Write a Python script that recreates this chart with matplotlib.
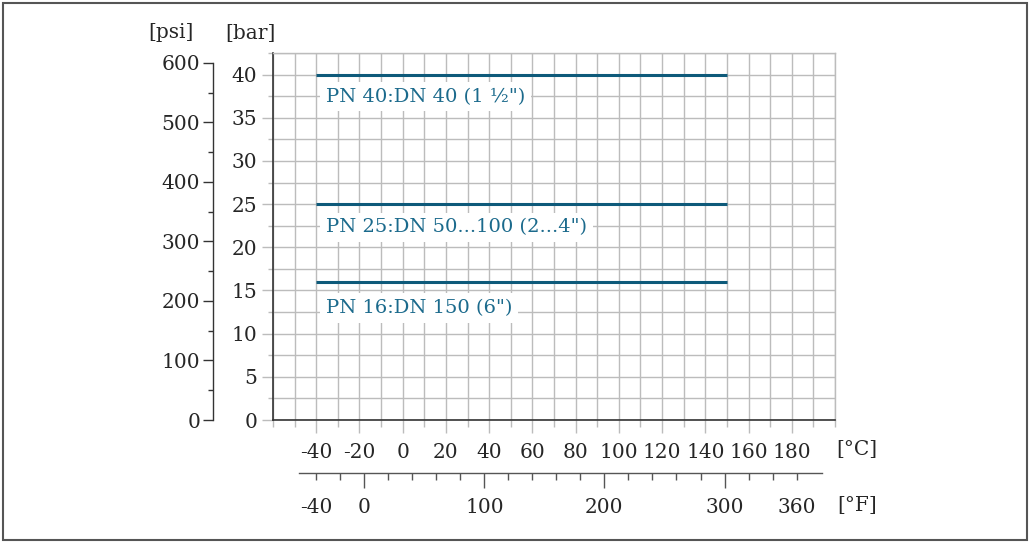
import matplotlib
matplotlib.use('Agg')
import matplotlib.pyplot as plt
from matplotlib.ticker import MultipleLocator, FixedLocator, NullLocator
from matplotlib.patches import Rectangle

plt.rcParams['font.family'] = ['DejaVu Serif', 'DejaVu Sans']
plt.rcParams['axes.unicode_minus'] = False

# ---- data ----
pn_labels = ['PN 40:DN 40 (1 ½")', 'PN 25:DN 50...100 (2...4")', 'PN 16:DN 150 (6")']
pressure_bar = [40, 25, 16]
temp_min_c = [-40, -40, -40]
temp_max_c = [150, 150, 150]
celsius_ticks = [-40, -20, 0, 20, 40, 60, 80, 100, 120, 140, 160, 180]
fahrenheit_ticks = [-40, 0, 100, 200, 300, 360]
fahrenheit_minor = [-20, 20, 40, 60, 80, 120, 140, 160, 180, 220, 240, 260, 280, 320, 340]
bar_ticks = [0, 5, 10, 15, 20, 25, 30, 35, 40]
psi_ticks = [0, 100, 200, 300, 400, 500, 600]

W, H = 1030, 543
PX = 0.72  # points per pixel at dpi 100
fig = plt.figure(figsize=(W / 100, H / 100), dpi=100)

def box(x0, y0, x1, y1):
    return [x0 / W, 1 - y1 / H, (x1 - x0) / W, (y1 - y0) / H]

pos = box(273, 53, 835, 420)
GRID = '#bcbcbc'
DARK = '#333333'
LINE = '#0e5a7a'
TXT = '#1b6a8c'
LBL = '#262626'
FS = 14.5

# ---- psi axis (left, offset) ----
axp = fig.add_axes(pos)
axp.patch.set_visible(False)
for s in ['top', 'right', 'bottom']:
    axp.spines[s].set_visible(False)
axp.spines['left'].set_position(('outward', 60 * PX))
axp.spines['left'].set_color(DARK)
axp.spines['left'].set_linewidth(1.0)
axp.set_ylim(0, 42.5 * 14.5038)
axp.spines['left'].set_bounds(0, 600)
axp.xaxis.set_major_locator(NullLocator())
axp.yaxis.set_major_locator(FixedLocator(psi_ticks))
axp.yaxis.set_minor_locator(FixedLocator([50, 150, 250, 350, 450, 550]))
axp.tick_params(axis='y', which='major', length=10 * PX, width=1, color=DARK,
                labelsize=FS, pad=2, labelcolor=LBL)
axp.tick_params(axis='y', which='minor', length=5 * PX, width=1, color=DARK)

# ---- fahrenheit axis (bottom, offset) ----
axf = fig.add_axes(pos)
axf.patch.set_visible(False)
for s in ['top', 'right', 'left']:
    axf.spines[s].set_visible(False)
axf.spines['bottom'].set_position(('outward', 53 * PX))
axf.spines['bottom'].set_color('#555555')
axf.spines['bottom'].set_linewidth(1.0)
axf.set_xlim(-60 * 1.8 + 32, 200 * 1.8 + 32)
axf.spines['bottom'].set_bounds(-54, 381)
axf.yaxis.set_major_locator(NullLocator())
axf.xaxis.set_major_locator(FixedLocator(fahrenheit_ticks))
axf.xaxis.set_minor_locator(FixedLocator(fahrenheit_minor))
axf.tick_params(axis='x', which='major', length=15 * PX, width=1, color='#555555',
                labelsize=FS, pad=7, labelcolor=LBL)
axf.tick_params(axis='x', which='minor', length=7 * PX, width=1, color='#555555')
for t, v in zip(axf.xaxis.get_major_ticks(), fahrenheit_ticks):
    if v in (-40, 360):
        t.tick1line.set_markersize(7 * PX)

# ---- main bar / celsius axes ----
ax = fig.add_axes(pos)
ax.patch.set_visible(False)
ax.set_xlim(-60, 200)
ax.set_ylim(0, 42.5)
ax.xaxis.set_major_locator(FixedLocator(celsius_ticks))
ax.xaxis.set_minor_locator(MultipleLocator(10))
ax.yaxis.set_major_locator(FixedLocator(bar_ticks))
ax.yaxis.set_minor_locator(MultipleLocator(2.5))
ax.grid(True, which='both', color=GRID, linewidth=1.0)
ax.set_axisbelow(True)
for s in ['top', 'right']:
    ax.spines[s].set_color(GRID)
    ax.spines[s].set_linewidth(1.0)
for s in ['left', 'bottom']:
    ax.spines[s].set_color(DARK)
    ax.spines[s].set_linewidth(1.2)
ax.tick_params(axis='x', which='major', length=13 * PX, width=1, color=GRID,
               labelsize=FS, pad=7, labelcolor=LBL)
ax.tick_params(axis='x', which='minor', length=7 * PX, width=1, color=GRID)
ax.tick_params(axis='y', which='major', length=11 * PX, width=1, color=GRID,
               labelsize=FS, pad=3.5, labelcolor=LBL)
ax.tick_params(axis='y', which='minor', length=5 * PX, width=1, color=GRID)

label_y = [37.45, 22.3, 12.95]
for lab, p, t0, t1, ly in zip(pn_labels, pressure_bar, temp_min_c, temp_max_c, label_y):
    ax.plot([t0, t1], [p, p], color=LINE, linewidth=2.2, solid_capstyle='butt', zorder=3)
    ax.text(t0 + 4.5, ly, lab, color=TXT, fontsize=14, va='center', ha='left', zorder=4,
            bbox=dict(boxstyle='square,pad=0.3', facecolor='white', edgecolor='none'))

# ---- unit labels ----
fig.text(171 / W, 1 - 33 / H, '[psi]', ha='center', va='center', fontsize=FS, color=LBL)
fig.text(250 / W, 1 - 33 / H, '[bar]', ha='center', va='center', fontsize=FS, color=LBL)
fig.text(857 / W, 1 - 450 / H, '[°C]', ha='center', va='center', fontsize=FS, color=LBL)
fig.text(857 / W, 1 - 505 / H, '[°F]', ha='center', va='center', fontsize=FS, color=LBL)

# ---- outer frame ----
fig.add_artist(Rectangle((3 / W, 3 / H), 1024 / W, 537 / H, transform=fig.transFigure,
                         fill=False, edgecolor='#555555', linewidth=1.5))

fig.savefig('out.png', dpi=100)
